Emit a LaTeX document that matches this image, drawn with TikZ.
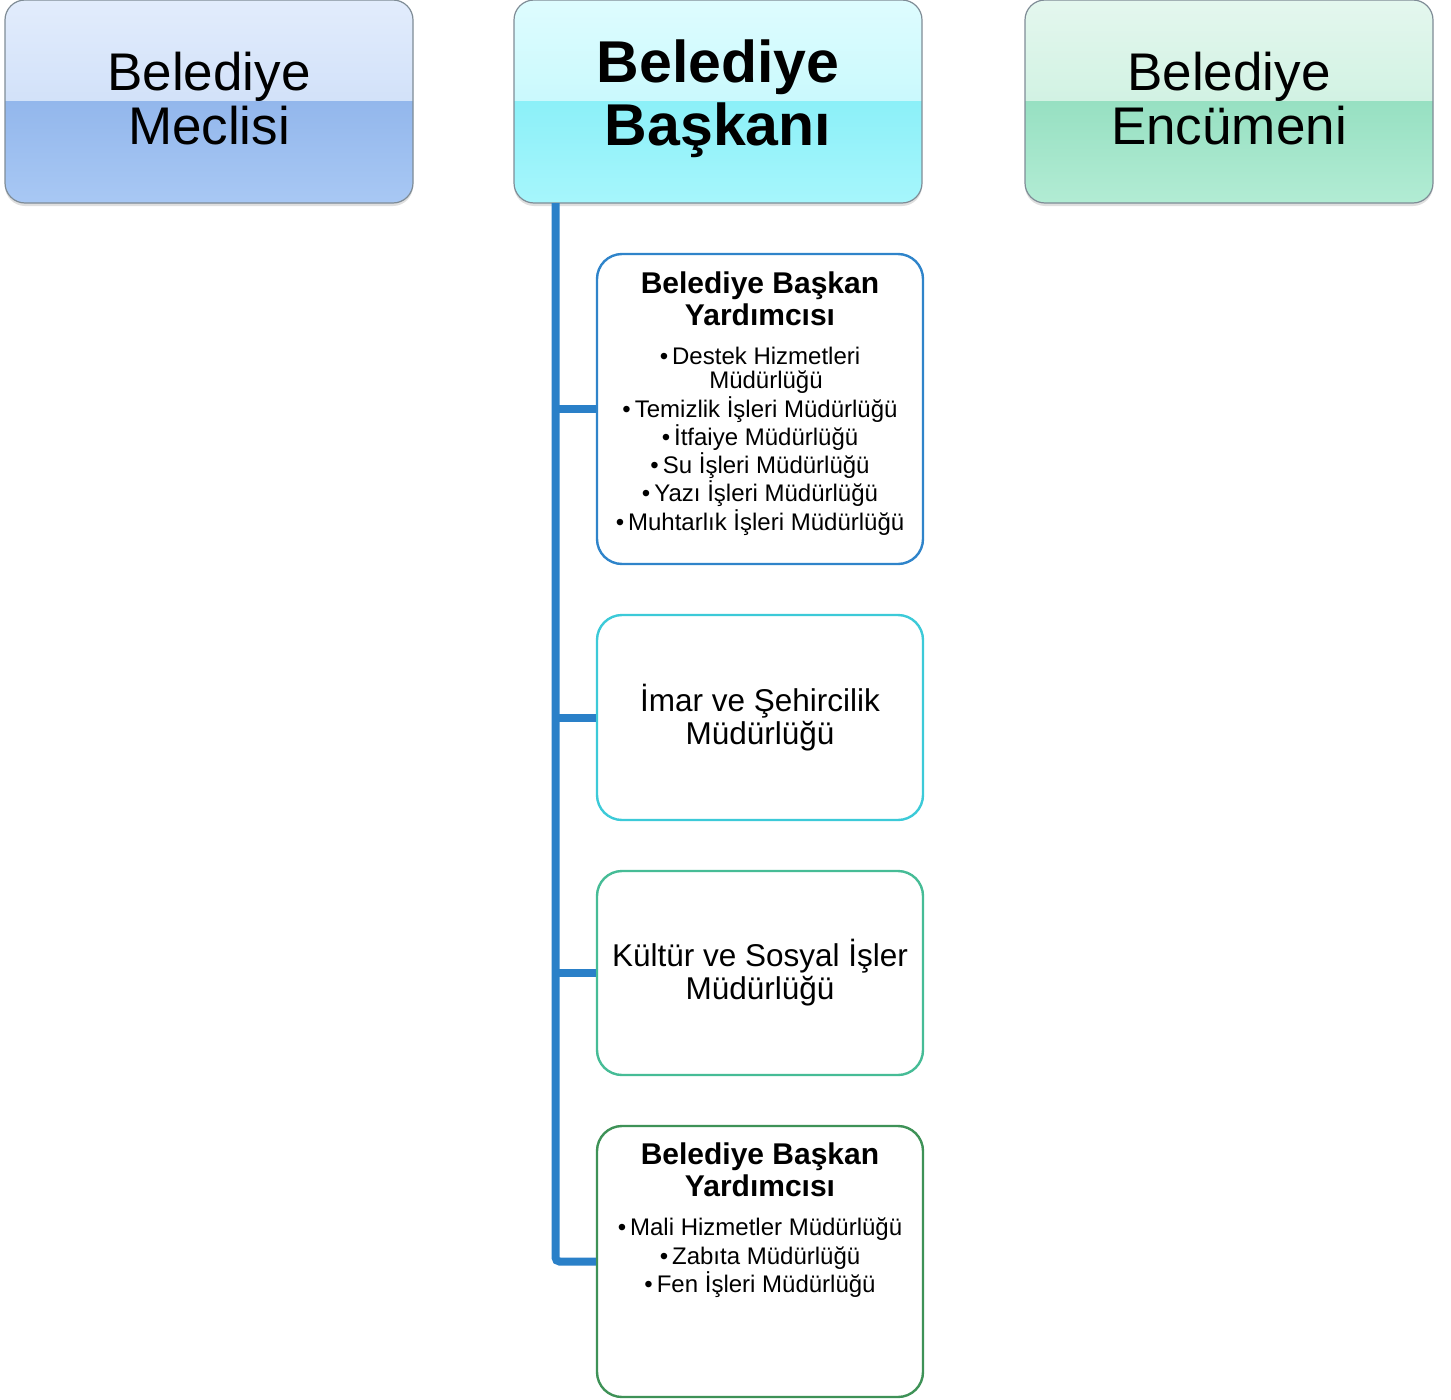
\documentclass[tikz,border=0pt]{standalone}
\usepackage{fontspec}
\setmainfont{Liberation Sans}
\usetikzlibrary{shadows,calc}
\definecolor{trunkc}{HTML}{2A80C8}
\definecolor{bOne}{HTML}{2F84CA}
\definecolor{bTwo}{HTML}{3CCAD8}
\definecolor{bThree}{HTML}{46BC96}
\definecolor{bFour}{HTML}{3E9257}
\definecolor{edgegray}{HTML}{7F8C96}
\definecolor{mT}{HTML}{E2ECFC}\definecolor{mU}{HTML}{C2D7F6}\definecolor{mL}{HTML}{93B7EC}\definecolor{mB}{HTML}{A8C8F4}
\definecolor{kT}{HTML}{DEFCFE}\definecolor{kU}{HTML}{B6F6FC}\definecolor{kL}{HTML}{8CF0F8}\definecolor{kB}{HTML}{A6F6FC}
\definecolor{eT}{HTML}{E4F7EE}\definecolor{eU}{HTML}{BFEDD8}\definecolor{eL}{HTML}{97E0C2}\definecolor{eB}{HTML}{B2ECD4}
\tikzset{
  glossy/.style n args={4}{draw=edgegray, line width=1.2pt, rounded corners=20pt,
    minimum width=408pt, minimum height=203pt, inner sep=0pt, align=center,
    drop shadow={shadow xshift=0pt, shadow yshift=-3pt, opacity=0.18, fill=black!70},
    path picture={
      \shade[sharp corners, top color=#1, bottom color=#2] (path picture bounding box.north west) rectangle ($(path picture bounding box.east)+(0,1pt)$);
      \shade[sharp corners, top color=#3, bottom color=#4] (path picture bounding box.west) rectangle (path picture bounding box.south east);
    }},
  sub/.style={draw=#1, line width=2.4pt, fill=white, rounded corners=25pt,
    minimum width=326pt, inner sep=0pt, align=center},
  conn/.style={draw=trunkc, line width=8pt},
  bigfont/.style={font=\fontsize{53}{54}\selectfont, text depth=0pt},
  bigbold/.style={font=\fontsize{59}{63}\selectfont\bfseries},
  tfont/.style={font=\fontsize{30}{32}\selectfont\bfseries, anchor=base},
  ifont/.style={font=\fontsize{24}{25}\selectfont, anchor=base},
  mfont/.style={font=\fontsize{31.5}{33}\selectfont}
}
\begin{document}
\begin{tikzpicture}[x=1pt,y=-1pt]
\useasboundingbox (0,0) rectangle (1451,1400);
% top boxes
\node[glossy={mT}{mU}{mL}{mB}] (meclis) at (209,101.5) {};
\node[glossy={kT}{kU}{kL}{kB}] (baskan) at (718,101.5) {};
\node[glossy={eT}{eU}{eL}{eB}] (encumen) at (1229,101.5) {};
\node[bigfont, align=center] (meclisT) at (209,98) {Belediye\\Meclisi};
\node[bigbold, align=center] (baskanT) at (718,99) {Belediye\\Başkanı};
\node[bigfont, align=center] (encumenT) at (1229,98) {Belediye\\Encümeni};
% sub boxes
\node[sub=bOne, minimum height=310pt] (b1) at (760,409) {};
\node[sub=bTwo, minimum height=205pt, mfont] (b2) at (760,717.5) {İmar ve Şehircilik\\Müdürlüğü};
\node[sub=bThree, minimum height=204pt, mfont] (b3) at (760,973) {Kültür ve Sosyal İşler\\Müdürlüğü};
\node[sub=bFour, minimum height=271pt] (b4) at (760,1261.5) {};
% connectors
\coordinate (tr) at (555.5,203);
\draw[conn, rounded corners=4pt] (tr) |- (b4.west);
\draw[conn] (tr |- b1.west) -- (b1.west);
\draw[conn] (tr |- b2.west) -- (b2.west);
\draw[conn] (tr |- b3.west) -- (b3.west);
% box 1 text
\node[tfont] (t1a) at (760,293) {Belediye Başkan};
\node[tfont] (t1b) at (760,325) {Yardımcısı};
\node[ifont] (l1a) at (760,364) {•\,Destek Hizmetleri};
\node[ifont] (l1b) at (766,388) {Müdürlüğü};
\node[ifont] (l1c) at (760,417) {•\,Temizlik İşleri Müdürlüğü};
\node[ifont] (l1d) at (760,445) {•\,İtfaiye Müdürlüğü};
\node[ifont] (l1e) at (760,473) {•\,Su İşleri Müdürlüğü};
\node[ifont] (l1f) at (760,501) {•\,Yazı İşleri Müdürlüğü};
\node[ifont] (l1g) at (760,530) {•\,Muhtarlık İşleri Müdürlüğü};
% box 4 text
\node[tfont] (t4a) at (760,1164) {Belediye Başkan};
\node[tfont] (t4b) at (760,1196) {Yardımcısı};
\node[ifont] (l4a) at (760,1235) {•\,Mali Hizmetler Müdürlüğü};
\node[ifont] (l4b) at (760,1264) {•\,Zabıta Müdürlüğü};
\node[ifont] (l4c) at (760,1292) {•\,Fen İşleri Müdürlüğü};
\end{tikzpicture}
\end{document}
